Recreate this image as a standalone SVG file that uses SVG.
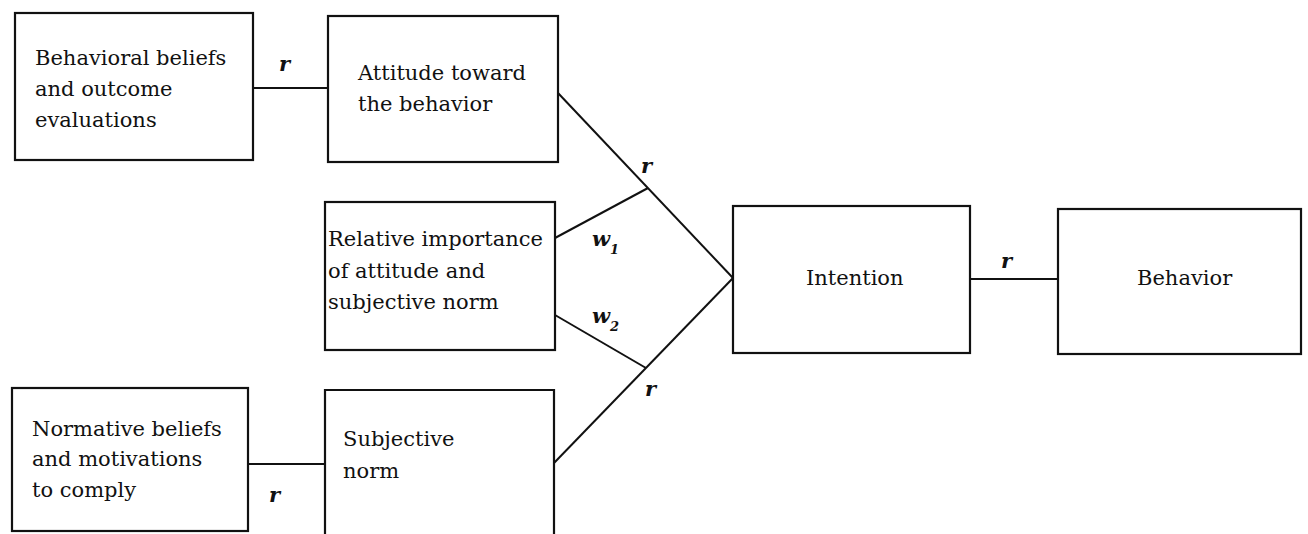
<svg xmlns="http://www.w3.org/2000/svg" width="1308" height="534" viewBox="0 0 1308 534">
<style>
.box{fill:none;stroke:#111;stroke-width:2.2}
.ln{fill:none;stroke:#111;stroke-width:2}
.t{font-family:"DejaVu Serif","Liberation Serif",serif;font-size:21px;fill:#111}
.lab{font-family:"DejaVu Serif","Liberation Serif",serif;font-size:21px;font-style:italic;font-weight:bold;fill:#111}
.sub{font-size:13px}
</style>
<rect width="1308" height="534" fill="#fff"/>
<g id="connectors">
<line class="ln" x1="253" y1="88" x2="328" y2="88"/>
<line class="ln" x1="558" y1="93" x2="733" y2="278"/>
<line class="ln" x1="555" y1="238" x2="648" y2="188"/>
<line class="ln" x1="555" y1="315" x2="646" y2="368"/>
<line class="ln" x1="554" y1="463" x2="733" y2="278"/>
<line class="ln" x1="970" y1="279" x2="1058" y2="279"/>
<line class="ln" x1="248" y1="464" x2="325" y2="464"/>
<text class="lab" x="279" y="71">r</text>
<text class="lab" x="641" y="173">r</text>
<text class="lab" x="592" y="246">w<tspan class="sub" dy="8">1</tspan></text>
<text class="lab" x="592" y="323">w<tspan class="sub" dy="8">2</tspan></text>
<text class="lab" x="645" y="396">r</text>
<text class="lab" x="1001" y="268">r</text>
<text class="lab" x="269" y="502">r</text>
</g>
<g id="behavioral-beliefs">
<rect class="box" x="15" y="13" width="238" height="147"/>
<text class="t" x="35" y="65">Behavioral beliefs</text>
<text class="t" x="35" y="96">and outcome</text>
<text class="t" x="35" y="127">evaluations</text>
</g>
<g id="attitude">
<rect class="box" x="328" y="16" width="230" height="146"/>
<text class="t" x="358" y="80">Attitude toward</text>
<text class="t" x="358" y="111">the behavior</text>
</g>
<g id="relative-importance">
<rect class="box" x="325" y="202" width="230" height="148"/>
<text class="t" x="328" y="246">Relative importance</text>
<text class="t" x="328" y="278">of attitude and</text>
<text class="t" x="328" y="309">subjective norm</text>
</g>
<g id="intention">
<rect class="box" x="733" y="206" width="237" height="147"/>
<text class="t" x="806" y="285">Intention</text>
</g>
<g id="behavior">
<rect class="box" x="1058" y="209" width="243" height="145"/>
<text class="t" x="1137" y="285">Behavior</text>
</g>
<g id="normative-beliefs">
<rect class="box" x="12" y="388" width="236" height="143"/>
<text class="t" x="32" y="436">Normative beliefs</text>
<text class="t" x="32" y="466">and motivations</text>
<text class="t" x="32" y="497">to comply</text>
</g>
<g id="subjective-norm">
<path class="box" d="M325,534 V390 H554 V534"/>
<text class="t" x="343" y="446">Subjective</text>
<text class="t" x="343" y="478">norm</text>
</g>
</svg>
